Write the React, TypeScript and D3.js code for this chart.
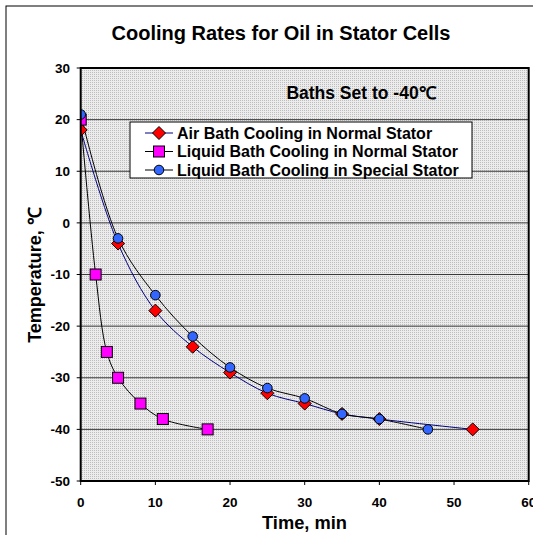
import * as d3 from 'd3';

// time (min) and temperature (°C)
const airTime = [0, 5, 10, 15, 20, 25, 30, 35, 40, 52.5];
const airTemp = [18, -4, -17, -24, -29, -33, -35, -37, -38, -40];
const liqNormTime = [0, 2, 3.5, 5, 8, 11, 17];
const liqNormTemp = [20, -10, -25, -30, -35, -38, -40];
const liqSpecTime = [0, 5, 10, 15, 20, 25, 30, 35, 40, 46.5];
const liqSpecTemp = [21, -3, -14, -22, -28, -32, -34, -37, -38, -40];

const xTicks = [0, 10, 20, 30, 40, 50, 60];
const yTicks = [-50, -40, -30, -20, -10, 0, 10, 20, 30];

const seriesNames = [
  'Air Bath Cooling in Normal Stator',
  'Liquid Bath Cooling in Normal Stator',
  'Liquid Bath Cooling in Special Stator',
];

const FONT = '"Liberation Sans", Arial, sans-serif';

type Pt = { t: number; v: number };
const zip = (a: number[], b: number[]): Pt[] => a.map((t, i) => ({ t, v: b[i] }));

export default function App() {
  const W = 533, H = 535;
  const x = d3.scaleLinear().domain([0, 60]).range([80.7, 528.7]);
  const y = d3.scaleLinear().domain([-50, 30]).range([481, 68]);

  const line = d3.line<Pt>().x(d => x(d.t)).y(d => y(d.v)).curve(d3.curveCatmullRom.alpha(0.5));

  const series = [
    { name: seriesNames[0], data: zip(airTime, airTemp), stroke: '#000080', marker: 'diamond', fill: '#ff0000' },
    { name: seriesNames[1], data: zip(liqNormTime, liqNormTemp), stroke: '#000000', marker: 'square', fill: '#ff00ff' },
    { name: seriesNames[2], data: zip(liqSpecTime, liqSpecTemp), stroke: '#000000', marker: 'circle', fill: '#3366ff' },
  ];

  const marker = (kind: string, cx: number, cy: number, fill: string, key: any) => {
    if (kind === 'diamond')
      return <path key={key} d={`M${cx},${cy - 6.5}L${cx + 6.5},${cy}L${cx},${cy + 6.5}L${cx - 6.5},${cy}Z`} fill={fill} stroke="#000" strokeWidth={1} />;
    if (kind === 'square')
      return <rect key={key} x={cx - 5.5} y={cy - 5.5} width={11} height={11} fill={fill} stroke="#000" strokeWidth={1} />;
    return <circle key={key} cx={cx} cy={cy} r={4.8} fill={fill} stroke="#000" strokeWidth={1} />;
  };

  const [x0, x1] = x.range();
  const [yb, yt] = y.range();

  return (
    <div style={{ position: 'absolute', left: 0, top: 0 }}>
      <svg width={W} height={H} fontFamily={FONT} style={{ display: 'block' }}>
        <defs>
          <pattern id="dots" width={2} height={2} patternUnits="userSpaceOnUse">
            <rect width={2} height={2} fill="#ececec" />
            <rect width={1} height={1} fill="#bdbdbd" />
          </pattern>
          <clipPath id="plot">
            <rect x={x0} y={yt} width={x1 - x0} height={yb - yt} />
          </clipPath>
        </defs>
        <rect width={W} height={H} fill="#fff" />
        <rect x={6} y={6} width={W + 20} height={H + 20} fill="none" stroke="#000" strokeWidth={1} />

        {/* Title */}
        <text x={281} y={40} textAnchor="middle" fontSize={20} fontWeight="bold">Cooling Rates for Oil in Stator Cells</text>

        {/* Plot area */}
        <rect x={x0} y={yt} width={x1 - x0} height={yb - yt} fill="url(#dots)" />
        {yTicks.slice(1, -1).map(t => (
          <line key={t} x1={x0} x2={x1} y1={y(t)} y2={y(t)} stroke="#3a3a3a" strokeWidth={1} />
        ))}

        {/* Annotation */}
        <text x={361} y={99} textAnchor="middle" fontSize={17.5} fontWeight="bold">Baths Set to -40℃</text>

        {/* Series */}
        <g clipPath="url(#plot)">
          {series.map((s, i) => (
            <g key={i}>
              <path d={line(s.data) || ''} fill="none" stroke={s.stroke} strokeWidth={1} />
            </g>
          ))}
          {series.map((s, i) => (
            <g key={'m' + i}>
              {s.data.map((d, j) => marker(s.marker, x(d.t), y(d.v), s.fill, j))}
            </g>
          ))}
        </g>

        {/* Plot border */}
        <rect x={x0} y={yt} width={x1 - x0} height={yb - yt} fill="none" stroke="#000" strokeWidth={2} />

        {/* Y axis ticks */}
        {yTicks.map(t => (
          <g key={t}>
            <line x1={x0 - 4} x2={x0} y1={y(t)} y2={y(t)} stroke="#000" strokeWidth={1} />
            <text x={70} y={y(t)} dy="0.35em" textAnchor="end" fontSize={13.5} fontWeight="bold">{t}</text>
          </g>
        ))}
        {/* X axis ticks */}
        {xTicks.map(t => (
          <g key={t}>
            <line x1={x(t)} x2={x(t)} y1={yb} y2={yb + 4} stroke="#000" strokeWidth={1} />
            <text x={x(t)} y={506.5} textAnchor="middle" fontSize={13.5} fontWeight="bold">{t}</text>
          </g>
        ))}

        {/* Axis titles */}
        <text x={304.5} y={529} textAnchor="middle" fontSize={18.3} fontWeight="bold">Time, min</text>
        <text transform="translate(41,275) rotate(-90)" textAnchor="middle" fontSize={18} fontWeight="bold">Temperature, ℃</text>

        {/* Legend */}
        <rect x={130} y={122} width={342} height={56} fill="#fff" stroke="#000" strokeWidth={1} />
        {series.map((s, i) => {
          const ly = 133 + i * 18.5;
          return (
            <g key={'l' + i}>
              <line x1={145} x2={173} y1={ly} y2={ly} stroke={s.stroke} strokeWidth={1} />
              {marker(s.marker, 159, ly, s.fill, 'lm' + i)}
              <text x={177} y={ly} dy="0.36em" fontSize={16} fontWeight="bold">{s.name}</text>
            </g>
          );
        })}
      </svg>
    </div>
  );
}
